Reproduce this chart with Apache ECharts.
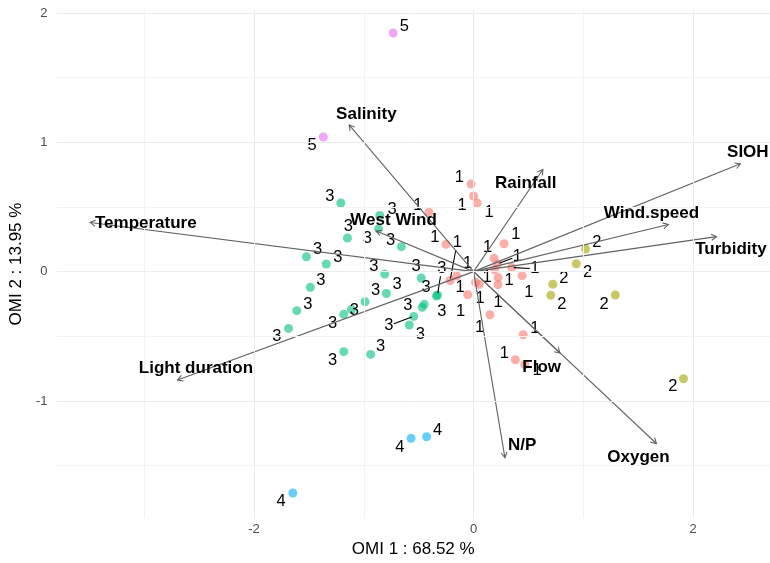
<!DOCTYPE html>
<html>
<head>
<meta charset="utf-8">
<script src="https://cdn.jsdelivr.net/npm/echarts@6/dist/echarts.min.js"></script>
<style>
  html, body { margin: 0; padding: 0; background: #ffffff; }
  #chart { width: 770px; height: 563px; }
</style>
</head>
<body>
<div id="chart"></div>
<script>
// Site scores on OMI axes 1 and 2, one array per cluster
const group1 = [[-0.023,0.677],[0.000,0.585],[0.032,0.531],[-0.407,0.457],[-0.252,0.211],[0.278,0.216],
  [0.186,0.103],[0.217,0.059],[0.347,0.032],[0.190,0.015],[0.442,-0.031],[0.223,-0.046],[0.222,-0.101],
  [-0.154,-0.034],[-0.214,-0.069],[0.018,-0.083],[0.052,-0.098],[-0.054,-0.179],[0.149,-0.333],
  [0.452,-0.488],[0.380,-0.681],[0.466,-0.718]];
const group2 = [[1.020,0.175],[0.935,0.061],[0.721,-0.098],[0.703,-0.183],[1.291,-0.181],[1.912,-0.828]];
const group3 = [[-1.210,0.531],[-0.855,0.434],[-0.866,0.331],[-1.149,0.260],[-0.658,0.193],[-1.523,0.115],
  [-1.342,0.059],[-0.810,-0.019],[-0.477,-0.049],[-1.487,-0.121],[-0.794,-0.169],[-0.329,-0.181],
  [-0.339,-0.189],[-0.450,-0.253],[-0.468,-0.276],[-0.989,-0.233],[-1.611,-0.302],[-1.113,-0.293],
  [-1.183,-0.330],[-0.546,-0.346],[-0.586,-0.413],[-1.686,-0.439],[-1.183,-0.619],[-0.938,-0.640]];
const group4 = [[-0.570,-1.289],[-0.428,-1.277],[-1.647,-1.712]];
const group5 = [[-0.733,1.845],[-1.369,1.041]];

// Repelled text anchors for the cluster numbers (same order as the scores)
const group1Text = [[-0.131,0.732],[-0.104,0.515],[0.140,0.461],[-0.507,0.511],[-0.353,0.264],[0.385,0.291],
  [0.127,0.186],[0.398,0.118],[0.557,0.022],[0.122,-0.046],[0.502,-0.158],[0.324,-0.067],[0.222,-0.235],
  [-0.054,0.063],[-0.149,0.229],[-0.124,-0.119],[0.059,-0.208],[-0.118,-0.305],[0.054,-0.431],
  [0.557,-0.439],[0.281,-0.630],[0.579,-0.761]];
const group2Text = [[1.122,0.224],[1.038,-0.009],[0.821,-0.052],[0.803,-0.253],[1.188,-0.251],[1.816,-0.890]];
const group3Text = [[-1.310,0.585],[-0.742,0.482],[-0.968,0.260],[-1.140,0.353],[-0.757,0.244],[-1.421,0.172],
  [-1.237,0.111],[-0.908,0.038],[-0.525,0.038],[-1.391,-0.070],[-0.697,-0.096],[-0.290,0.026],
  [-0.290,-0.305],[-0.432,-0.125],[-0.600,-0.258],[-0.893,-0.148],[-1.511,-0.251],[-1.086,-0.297],
  [-1.285,-0.400],[-0.772,-0.418],[-0.486,-0.485],[-1.792,-0.503],[-1.285,-0.684],[-0.848,-0.581]];
const group4Text = [[-0.672,-1.359],[-0.329,-1.225],[-1.753,-1.774]];
const group5Text = [[-0.631,1.899],[-1.472,0.974]];

// Environmental variables: arrow tips and label anchors
const varNames = ['Salinity','Temperature','Light duration','West Wind','Rainfall','SIOH','Wind.speed','Turbidity','Flow','Oxygen','N/P'];
const varX = [-1.134,-3.493,-2.697,-0.887,0.631,2.430,1.774,2.213,0.787,1.665,0.285];
const varY = [1.134,0.380,-0.838,0.314,0.790,0.834,0.364,0.271,-0.630,-1.329,-1.438];
const varTextX = [-0.977,-2.986,-2.529,-0.729,0.475,2.498,1.620,2.344,0.620,1.502,0.443];
const varTextY = [1.219,0.372,-0.746,0.399,0.685,0.921,0.453,0.175,-0.738,-1.438,-1.345];

// Axis ticks and grid lines
const xTicks = [-2, 0, 2];
const yTicks = [-1, 0, 1, 2];
const xMajor = [-2, 0, 2], xMinor = [-3, -1, 1];
const yMajor = [-1, 0, 1, 2], yMinor = [-1.5, -0.5, 0.5, 1.5];

const groupNames = ['1','2','3','4','5'];
const groupColors = ['#F8766D','#A3A500','#00BF7D','#00B0F6','#E76BF3'];
const groupPoints = [group1, group2, group3, group4, group5];
const groupText = [group1Text, group2Text, group3Text, group4Text, group5Text];

const FONT = '"Liberation Sans", Arial, Helvetica, sans-serif';

const chart = echarts.init(document.getElementById('chart'), null, { renderer: 'canvas' });

const gridLines = [];
xMinor.forEach(v => gridLines.push({ xAxis: v, lineStyle: { color: '#f3f3f3', width: 1 } }));
yMinor.forEach(v => gridLines.push({ yAxis: v, lineStyle: { color: '#f3f3f3', width: 1 } }));
xMajor.forEach(v => gridLines.push({ xAxis: v, lineStyle: { color: '#ebebeb', width: 1 } }));
yMajor.forEach(v => gridLines.push({ yAxis: v, lineStyle: { color: '#ebebeb', width: 1 } }));

const series = [];

// panel grid
series.push({
  type: 'line', data: [], silent: true, z: 0,
  markLine: {
    silent: true, symbol: ['none', 'none'], label: { show: false },
    animation: false, lineStyle: { type: 'solid' }, data: gridLines
  }
});

// points
groupPoints.forEach((pts, g) => {
  series.push({
    type: 'scatter', name: groupNames[g], data: pts, symbol: 'circle', symbolSize: 9, z: 2,
    itemStyle: { color: groupColors[g], opacity: 0.6 }, silent: true
  });
});

// cluster numbers with leader segments when pushed far away
groupPoints.forEach((pts, g) => {
  const txt = groupText[g];
  series.push({
    type: 'custom', coordinateSystem: 'cartesian2d', z: 3, silent: true,
    data: pts.map((p, i) => [p[0], p[1], txt[i][0], txt[i][1]]),
    renderItem: (params, api) => {
      const p = api.coord([api.value(0), api.value(1)]);
      const l = api.coord([api.value(2), api.value(3)]);
      const children = [];
      const dx = p[0] - l[0], dy = p[1] - l[1];
      const d = Math.hypot(dx, dy);
      if (d > 20) {
        const hw = 5, hh = 8;
        const s = Math.min(hw / Math.max(Math.abs(dx), 1e-6), hh / Math.max(Math.abs(dy), 1e-6));
        children.push({
          type: 'line',
          shape: { x1: l[0] + dx * s, y1: l[1] + dy * s, x2: p[0] - dx / d * 2, y2: p[1] - dy / d * 2 },
          style: { stroke: '#000000', lineWidth: 1.1 }
        });
      }
      children.push({
        type: 'text',
        style: { text: groupNames[g], x: l[0], y: l[1], align: 'center', verticalAlign: 'middle',
                 font: '16.5px ' + FONT, fill: '#000000' }
      });
      return { type: 'group', children };
    }
  });
});

// variable arrows from the origin
series.push({
  type: 'custom', coordinateSystem: 'cartesian2d', z: 4, silent: true,
  data: varX.map((x, i) => [x, varY[i]]),
  renderItem: (params, api) => {
    const o = api.coord([0, 0]);
    const t = api.coord([api.value(0), api.value(1)]);
    const ang = Math.atan2(t[1] - o[1], t[0] - o[0]);
    const L = 6, a = Math.PI / 6;
    const h1 = [t[0] - L * Math.cos(ang - a), t[1] - L * Math.sin(ang - a)];
    const h2 = [t[0] - L * Math.cos(ang + a), t[1] - L * Math.sin(ang + a)];
    const st = { stroke: '#626262', lineWidth: 1.1, fill: null };
    return {
      type: 'group', children: [
        { type: 'line', shape: { x1: o[0], y1: o[1], x2: t[0], y2: t[1] }, style: st },
        { type: 'polyline', shape: { points: [h1, t, h2] }, style: st }
      ]
    };
  }
});

// variable names
series.push({
  type: 'custom', coordinateSystem: 'cartesian2d', z: 5, silent: true,
  data: varTextX.map((x, i) => [x, varTextY[i]]),
  renderItem: (params, api) => {
    const l = api.coord([api.value(0), api.value(1)]);
    return {
      type: 'text',
      style: { text: varNames[params.dataIndex], x: l[0], y: l[1], align: 'center', verticalAlign: 'middle',
               font: 'bold 17px ' + FONT, fill: '#000000' }
    };
  }
});

chart.setOption({
  animation: false,
  backgroundColor: '#ffffff',
  grid: { left: 52, right: 0, top: 10, bottom: 45, containLabel: false },
  xAxis: {
    type: 'value', min: -3.80, max: 2.70,
    name: 'OMI 1 : 68.52 %', nameLocation: 'middle', nameGap: 23,
    nameTextStyle: { fontFamily: FONT, fontSize: 17, color: '#000000' },
    axisLine: { show: false }, axisTick: { show: false }, splitLine: { show: false },
    axisLabel: { customValues: xTicks, fontFamily: FONT, fontSize: 13, color: '#4d4d4d', margin: 5 }
  },
  yAxis: {
    type: 'value', min: -1.905, max: 2.023,
    name: 'OMI 2 : 13.95 %', nameLocation: 'middle', nameGap: 30,
    nameTextStyle: { fontFamily: FONT, fontSize: 17, color: '#000000' },
    axisLine: { show: false }, axisTick: { show: false }, splitLine: { show: false },
    axisLabel: { customValues: yTicks, fontFamily: FONT, fontSize: 13, color: '#4d4d4d', margin: 9 }
  },
  series
});
</script>
</body>
</html>
